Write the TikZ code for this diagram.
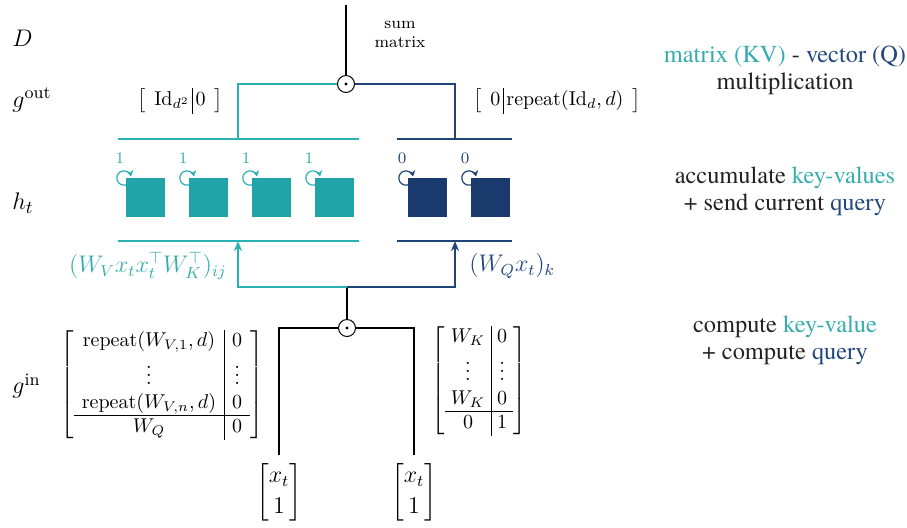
\documentclass[tikz,border=0pt]{standalone}
\usepackage{amsmath}
\usepackage{fontspec}
\IfFontExistsTF{texgyretermes-regular.otf}
  {\newfontfamily\rfont{texgyretermes-regular.otf}}
  {\IfFontExistsTF{TeX Gyre Termes}
     {\newfontfamily\rfont{TeX Gyre Termes}}
     {\newfontfamily\rfont{Liberation Serif}}}
\usetikzlibrary{arrows.meta,calc}
\definecolor{kvfill}{HTML}{20A4A8}
\definecolor{kvline}{HTML}{2BB0B3}
\definecolor{kvtext}{HTML}{35ADAE}
\definecolor{qfill}{HTML}{1A3A6E}
\definecolor{qline}{HTML}{1F4478}
\definecolor{qtext}{HTML}{22477E}
\definecolor{darktext}{HTML}{222222}
\begin{document}
\begin{tikzpicture}[x=0.5pt,y=0.5pt,
  cell/.style={minimum size=19.5pt, inner sep=0pt, outer sep=0pt},
  kvcell/.style={cell, fill=kvfill},
  qcell/.style={cell, fill=qfill},
  bar/.style={line width=1pt},
  wire/.style={line width=0.9pt},
  odotnode/.style={circle, draw, line width=0.5pt, minimum size=8.5pt, inner sep=0pt},
  rowlabel/.style={anchor=west, inner sep=0pt, font=\fontsize{12.5}{15}\selectfont},
  note/.style={align=center, text=darktext, font=\fontsize{12.2}{13.5}\selectfont},
  cnt/.style={inner sep=0pt, font=\fontsize{8}{9}\selectfont},
  selfloop/.style={line width=0.6pt, -{Stealth[length=3pt,width=3.5pt]}},
  uparrow/.style={wire, -{Stealth[length=5pt,width=4pt]}},
  mat/.style={inner sep=0pt, font=\fontsize{10}{12}\selectfont},
  vec/.style={mat, outer sep=3pt, font=\fontsize{11.5}{14}\selectfont},
  edgelabel/.style={inner sep=0pt, font=\fontsize{12}{14}\selectfont},
]
\useasboundingbox (0,0) rectangle (907,-527);

% row labels
\node[rowlabel] (D) at (12,-38) {$D$};
\node[rowlabel] (gout) at (12,-100) {$g^{\mathrm{out}}$};
\node[rowlabel] (ht) at (12,-203) {$h_t$};
\node[rowlabel] (gin) at (12,-386) {$g^{\mathrm{in}}$};

% top product
\node[odotnode] (ot) at (346,-84) {};
\fill (ot.center) circle (0.8pt);
\coordinate (topin) at (346,-5);
\draw[wire] (topin) -- (ot.north);
\node[align=center, inner sep=0pt, font=\fontsize{8.2}{9.5}\selectfont] (sm) at (400,-34) {sum\\matrix};

\coordinate (tA) at (238,-139);
\coordinate (nA) at (455,-139);
\draw[wire,kvline] (ot.west) -| (tA);
\draw[wire,qline] (ot.east) -| (nA);

% g_out matrices
\node[mat] (mL) at (180,-101) {\setlength{\arraycolsep}{1.5pt}$\left[\;\begin{array}{c|c}\mathrm{Id}_{d^2} & 0\rule[-4.5pt]{0pt}{13pt}\end{array}\;\right]$};
\node[mat] (mR) at (557,-101) {\setlength{\arraycolsep}{1.5pt}$\left[\;\begin{array}{c|c}0 & \mathrm{repeat}(\mathrm{Id}_d,d)\rule[-4.5pt]{0pt}{13pt}\end{array}\;\right]$};

% bars
\coordinate (tb1) at (118,-139); \coordinate (tb2) at (359,-139);
\coordinate (nb1) at (397,-139); \coordinate (nb2) at (512,-139);
\coordinate (tc1) at (118,-241); \coordinate (tc2) at (359,-241);
\coordinate (nc1) at (397,-241); \coordinate (nc2) at (512,-241);
\draw[bar,kvline] (tb1) -- (tb2);
\draw[bar,qline] (nb1) -- (nb2);
\draw[bar,kvline] (tc1) -- (tc2);
\draw[bar,qline] (nc1) -- (nc2);

% state cells positions
\coordinate (p1) at (145.5,-197.5);
\coordinate (p2) at (208.5,-197.5);
\coordinate (p3) at (271.5,-197.5);
\coordinate (p4) at (334.5,-197.5);
\coordinate (p5) at (427.5,-197.5);
\coordinate (p6) at (490.5,-197.5);

% self loops (drawn under the cells)
\foreach \p/\c in {p1/kvline,p2/kvline,p3/kvline,p4/kvline,p5/qline,p6/qline}{
  \draw[selfloop,\c] ($(\p)+(-21.5,19.5)$) ++(300:3.6pt) arc[start angle=300, end angle=12, radius=3.6pt];
}

\node[kvcell] (s1) at (p1) {};
\node[kvcell] (s2) at (p2) {};
\node[kvcell] (s3) at (p3) {};
\node[kvcell] (s4) at (p4) {};
\node[qcell] (s5) at (p5) {};
\node[qcell] (s6) at (p6) {};

\node[cnt,text=kvtext] (c1) at ($(s1.north west)+(-6,20)$) {$1$};
\node[cnt,text=kvtext] (c2) at ($(s2.north west)+(-6,20)$) {$1$};
\node[cnt,text=kvtext] (c3) at ($(s3.north west)+(-6,20)$) {$1$};
\node[cnt,text=kvtext] (c4) at ($(s4.north west)+(-6,20)$) {$1$};
\node[cnt,text=qtext] (c5) at ($(s5.north west)+(-6,20)$) {$0$};
\node[cnt,text=qtext] (c6) at ($(s6.north west)+(-6,20)$) {$0$};

% input to state
\coordinate (tB) at (238,-241);
\coordinate (nB) at (455,-241);
\node[odotnode] (ob) at (347,-328) {};
\fill (ob.center) circle (0.8pt);
\coordinate (split) at (347,-287);
\draw[wire] (ob.north) -- (split);
\draw[uparrow,kvline] (split) -| (tB);
\draw[uparrow,qline] (split) -| (nB);

\node[edgelabel,text=kvtext,anchor=east] (lkv) at (227,-266) {$(W_V x_t x_t^{\top} W_K^{\top})_{ij}$};
\node[edgelabel,text=qtext,anchor=west] (lq) at (469,-266) {$(W_Q x_t)_k$};

% input vectors
\node[vec] (v1) at (279,-492) {\renewcommand{\arraystretch}{1.1}$\begin{bmatrix} x_t\\ 1\end{bmatrix}$};
\node[vec] (v2) at (414,-492) {\renewcommand{\arraystretch}{1.1}$\begin{bmatrix} x_t\\ 1\end{bmatrix}$};
\draw[wire] (v1.north) |- (ob.west);
\draw[wire] (v2.north) |- (ob.east);

% g_in matrices
\node[mat] (gL) at (162,-385) {\setlength{\arraycolsep}{4pt}$\left[\begin{array}{c|c}
\mathrm{repeat}(W_{V,1},d) & 0\\
\vdots & \vdots\\
\mathrm{repeat}(W_{V,n},d) & 0\\ \hline
W_Q & 0
\end{array}\right]$};
\node[mat] (gR) at (479,-381) {\setlength{\arraycolsep}{3pt}$\left[\begin{array}{c|c}
W_K & 0\\
\vdots & \vdots\\
W_K & 0\\ \hline
0 & 1
\end{array}\right]$};

% right-hand notes
\node[note] (n1) at (785,-70) {\rfont\textcolor{kvtext}{matrix (KV)} - \textcolor{qtext}{vector (Q)}\\\rfont multiplication};
\node[note] (n2) at (785,-191) {\rfont accumulate \textcolor{kvtext}{key-values}\\\rfont + send current \textcolor{qtext}{query}};
\node[note] (n3) at (785,-340) {\rfont compute \textcolor{kvtext}{key-value}\\\rfont + compute \textcolor{qtext}{query}};
\end{tikzpicture}
\end{document}
